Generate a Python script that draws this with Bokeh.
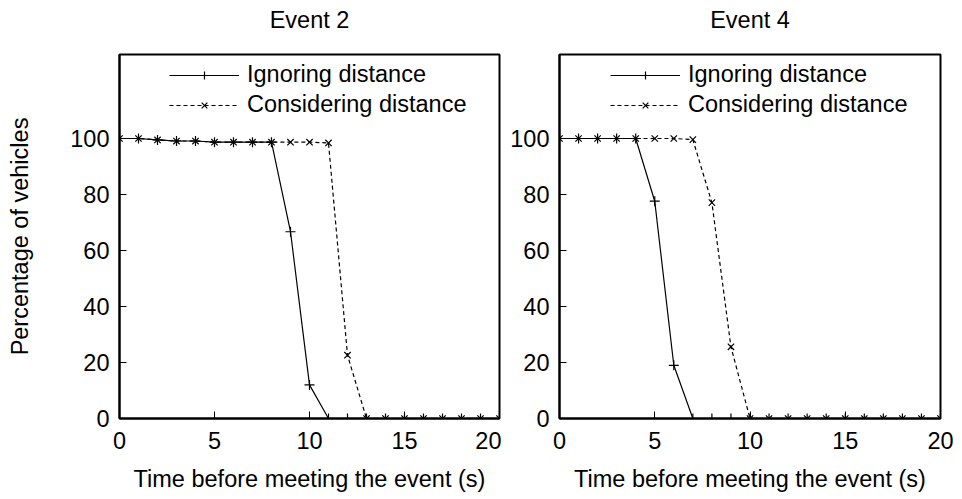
from bokeh.plotting import figure
from bokeh.models import Range1d, FixedTicker, Legend, LegendItem, Title
from bokeh.layouts import row
from bokeh.embed import file_html
from bokeh.resources import INLINE

# ---- data ----
time_s = list(range(0, 21))

event2_ignoring = [100, 100, 99.5, 99.1, 99.1, 98.7, 98.7, 98.7, 98.7, 66.7, 12.0,
                   0, 0, 0, 0, 0, 0, 0, 0, 0, 0]
event2_considering = [100, 100, 99.5, 99.1, 99.1, 98.7, 98.7, 98.7, 98.7, 98.7, 98.7,
                      98.4, 22.6, 0, 0, 0, 0, 0, 0, 0, 0]

event4_ignoring = [100, 100, 100, 100, 100, 77.6, 19.0, 0, 0, 0, 0,
                   0, 0, 0, 0, 0, 0, 0, 0, 0, 0]
event4_considering = [100, 100, 100, 100, 100, 100, 100, 99.6, 77.1, 25.6, 0,
                      0, 0, 0, 0, 0, 0, 0, 0, 0, 0]

titles = ["Event 2", "Event 4"]
series_names = ["Ignoring distance", "Considering distance"]
x_ticks = [0, 5, 10, 15, 20]
y_ticks = [0, 20, 40, 60, 80, 100]
x_label = "Time before meeting the event (s)"
y_label = "Percentage of vehicles"

FONT = "Liberation Sans"
FS = "23.5px"


def make_panel(title, ign, con, show_ylabel, border_left, border_right, fw):
    p = figure(
        output_backend="svg", toolbar_location=None,
        frame_width=fw, frame_height=364,
        min_border_left=border_left, min_border_right=border_right,
        min_border_top=54, min_border_bottom=81,
        x_range=Range1d(0, 20), y_range=Range1d(0, 130),
    )
    # spacer (nearest the frame) then the visible title above it
    spacer = Title(text=" ", text_font_size="12px", standoff=6)
    p.add_layout(spacer, "above")
    t = Title(text=title, align="center", text_font=FONT, text_font_size=FS,
              text_font_style="normal", text_color="black", standoff=0)
    p.add_layout(t, "above")

    p.grid.visible = False
    p.outline_line_color = "black"
    p.outline_line_width = 2
    p.outline_line_alpha = 1
    p.background_fill_color = "white"
    p.border_fill_color = "white"

    for ax in (p.xaxis[0], p.yaxis[0]):
        ax.major_tick_in = 7
        ax.major_tick_out = 0
        ax.minor_tick_line_color = None
        ax.major_tick_line_color = "black"
        ax.major_tick_line_width = 1
        ax.axis_line_color = "black"
        ax.axis_line_width = 2
        ax.major_label_text_font = FONT
        ax.major_label_text_font_size = FS
        ax.major_label_text_color = "black"
        ax.axis_label_text_font = FONT
        ax.axis_label_text_font_size = FS
        ax.axis_label_text_font_style = "normal"
        ax.axis_label_text_color = "black"

    p.xaxis.ticker = FixedTicker(ticks=x_ticks)
    p.yaxis.ticker = FixedTicker(ticks=y_ticks)
    p.xaxis.major_label_standoff = 13
    p.yaxis.major_label_standoff = 10
    p.xaxis.axis_label = x_label
    p.xaxis.axis_label_standoff = 14
    if show_ylabel:
        p.yaxis.axis_label = y_label
        p.yaxis.axis_label_standoff = 34

    l1 = p.line(time_s, ign, line_color="black", line_width=1.2)
    m1 = p.scatter(time_s, ign, marker="cross", size=10, line_color="black", line_width=1.2)
    l2 = p.line(time_s, con, line_color="black", line_width=1.2, line_dash="4 3")
    m2 = p.scatter(time_s, con, marker="x", size=9, line_color="black", line_width=1.2)

    legend = Legend(
        items=[LegendItem(label=series_names[0], renderers=[l1, m1]),
               LegendItem(label=series_names[1], renderers=[l2, m2])],
        label_text_font=FONT, label_text_font_size=FS, label_text_color="black",
        border_line_color=None, background_fill_alpha=0,
        glyph_width=70, glyph_height=20, label_height=22, spacing=3,
        padding=4, margin=6, label_standoff=8,
    )
    p.add_layout(legend)
    legend.location = (fw - 330, 364 - 64)
    return p


p1 = make_panel(titles[0], event2_ignoring, event2_considering, True, 119, 2, 380)
p2 = make_panel(titles[1], event4_ignoring, event4_considering, False, 58, 22, 381)

layout = row(p1, p2, spacing=0)
open("out.html", "w").write(file_html(layout, INLINE))
